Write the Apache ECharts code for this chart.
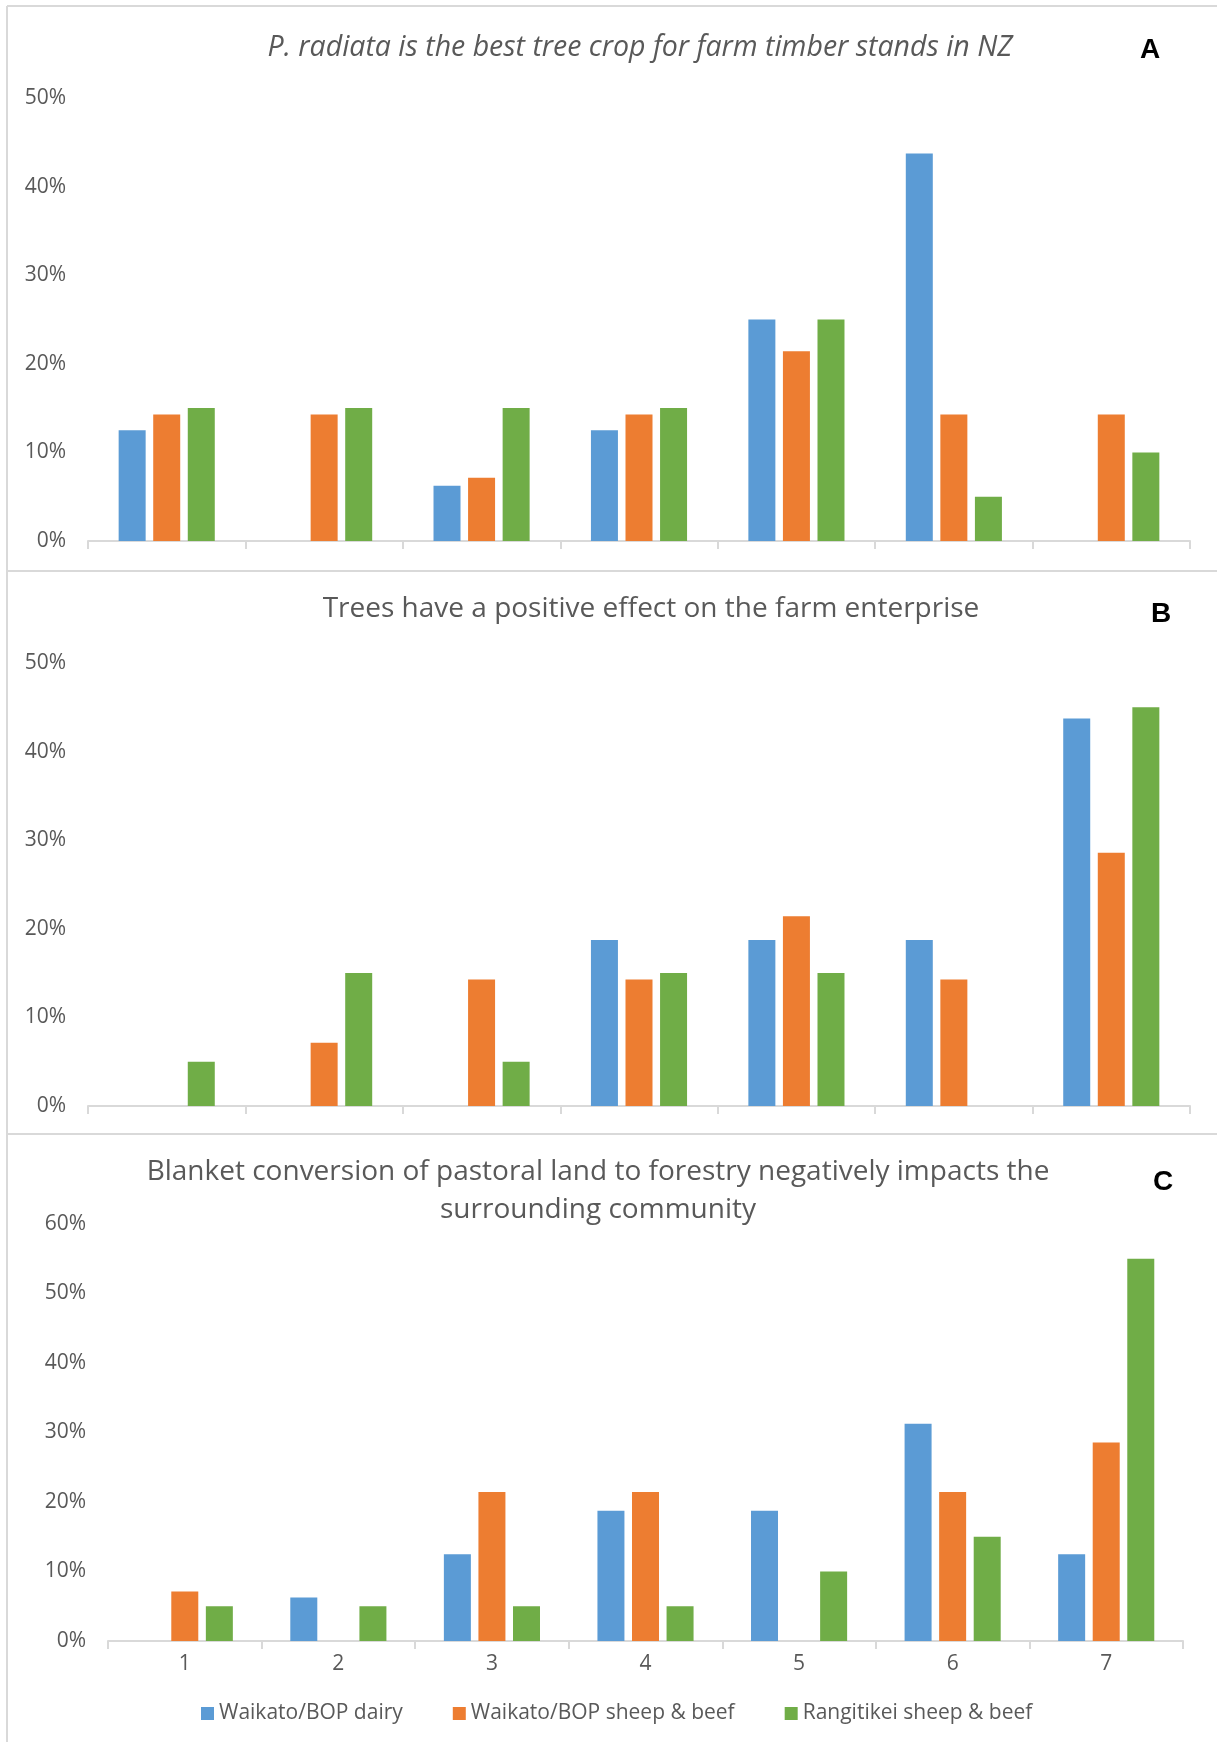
<!DOCTYPE html>
<html>
<head>
<meta charset="utf-8">
<script src="https://cdn.jsdelivr.net/npm/echarts@6/dist/echarts.min.js"></script>
<style>
  html, body { margin: 0; padding: 0; background: #ffffff; }
  #chart { width: 1217px; height: 1742px; }
</style>
</head>
<body>
<div id="chart"></div>
<script>
// Likert scale responses (1 = strongly disagree ... 7 = strongly agree), % of respondents per group
const categories = ['1', '2', '3', '4', '5', '6', '7'];
const groupNames = ['Waikato/BOP dairy', 'Waikato/BOP sheep & beef', 'Rangitikei sheep & beef'];
const groupColors = ['#5B9BD5', '#ED7D31', '#70AD47'];

const panelTitles = [
  'P. radiata is the best tree crop for farm timber stands in NZ',
  'Trees have a positive effect on the farm enterprise',
  'Blanket conversion of pastoral land to forestry negatively impacts the\nsurrounding community'
];
const panelLetters = ['A', 'B', 'C'];

// A: P. radiata is the best tree crop
const radiataDairy     = [12.5, 0, 6.25, 12.5, 25, 43.75, 0];
const radiataSheepBeef = [14.29, 14.29, 7.14, 14.29, 21.43, 14.29, 14.29];
const radiataRangitikei = [15, 15, 15, 15, 25, 5, 10];

// B: Trees have a positive effect
const positiveDairy     = [0, 0, 0, 18.75, 18.75, 18.75, 43.75];
const positiveSheepBeef = [0, 7.14, 14.29, 14.29, 21.43, 14.29, 28.57];
const positiveRangitikei = [5, 15, 5, 15, 15, 0, 45];

// C: Blanket conversion negatively impacts community
const conversionDairy     = [0, 6.25, 12.5, 18.75, 18.75, 31.25, 12.5];
const conversionSheepBeef = [7.14, 0, 21.43, 21.43, 0, 21.43, 28.57];
const conversionRangitikei = [5, 5, 5, 5, 10, 15, 55];

const yMax = [50, 50, 60];
const yInterval = 10;

const panelData = [
  [radiataDairy, radiataSheepBeef, radiataRangitikei],
  [positiveDairy, positiveSheepBeef, positiveRangitikei],
  [conversionDairy, conversionSheepBeef, conversionRangitikei]
];

const FONT = '"Open Sans", "DejaVu Sans", sans-serif';
const TEXT_COLOR = '#595959';
const LINE_COLOR = '#D9D9D9';

const grids = [
  { left: 88, width: 1102, top: 98, height: 443 },
  { left: 88, width: 1102, top: 663, height: 443 },
  { left: 108, width: 1075, top: 1224, height: 417 }
];

const xAxes = grids.map((g, i) => ({
  type: 'category',
  gridIndex: i,
  data: categories,
  axisLine: { lineStyle: { color: LINE_COLOR, width: 2 } },
  axisTick: { show: true, length: 8, lineStyle: { color: LINE_COLOR, width: 2 } },
  axisLabel: {
    show: i === 2,
    color: TEXT_COLOR,
    fontFamily: FONT,
    fontSize: 21,
    margin: 13
  }
}));

const yAxes = grids.map((g, i) => ({
  type: 'value',
  gridIndex: i,
  min: 0,
  max: yMax[i],
  interval: yInterval,
  splitLine: { show: false },
  axisLine: { show: false },
  axisTick: { show: false },
  axisLabel: {
    formatter: '{value}%',
    color: TEXT_COLOR,
    fontFamily: FONT,
    fontSize: 21,
    margin: 22
  }
}));

const series = [];
panelData.forEach((groups, p) => {
  groups.forEach((values, g) => {
    series.push({
      type: 'bar',
      name: groupNames[g],
      xAxisIndex: p,
      yAxisIndex: p,
      data: values,
      barWidth: 27,
      barGap: '28%',
      itemStyle: { color: groupColors[g] },
      emphasis: { disabled: true }
    });
  });
});

const titleCenters = [
  { x: 640, top: 29, italic: true, size: 28.5 },
  { x: 651, top: 590, italic: false, size: 28 },
  { x: 598, top: 1153, italic: false, size: 28 }
];

const titles = panelTitles.map((t, i) => ({
  text: t,
  left: titleCenters[i].x,
  top: titleCenters[i].top,
  textAlign: 'center',
  padding: 0,
  textStyle: {
    color: TEXT_COLOR,
    fontFamily: FONT,
    fontSize: titleCenters[i].size,
    fontWeight: 'normal',
    fontStyle: titleCenters[i].italic ? 'italic' : 'normal',
    lineHeight: 38
  }
}));

const letterPos = [[1150, 50], [1161, 614], [1163, 1182]];

const graphic = [
  // panel frames
  { type: 'line', shape: { x1: 7, y1: 6, x2: 7, y2: 1742 }, style: { stroke: LINE_COLOR, lineWidth: 2 }, silent: true },
  { type: 'line', shape: { x1: 7, y1: 6, x2: 1217, y2: 6 }, style: { stroke: LINE_COLOR, lineWidth: 2 }, silent: true },
  { type: 'line', shape: { x1: 7, y1: 571, x2: 1217, y2: 571 }, style: { stroke: LINE_COLOR, lineWidth: 2 }, silent: true },
  { type: 'line', shape: { x1: 7, y1: 1134, x2: 1217, y2: 1134 }, style: { stroke: LINE_COLOR, lineWidth: 2 }, silent: true }
];
panelLetters.forEach((l, i) => {
  graphic.push({
    type: 'text',
    x: letterPos[i][0],
    y: letterPos[i][1],
    silent: true,
    style: {
      text: l,
      fill: '#000000',
      font: 'bold 28px "Liberation Sans", Arial, sans-serif',
      textAlign: 'center',
      textVerticalAlign: 'middle'
    }
  });
});

const chart = echarts.init(document.getElementById('chart'), null, { renderer: 'canvas' });
chart.setOption({
  animation: false,
  backgroundColor: '#ffffff',
  title: titles,
  grid: grids,
  xAxis: xAxes,
  yAxis: yAxes,
  series: series,
  legend: {
    data: groupNames,
    left: 201,
    top: 1703,
    padding: 0,
    icon: 'rect',
    itemWidth: 13,
    itemHeight: 13,
    itemGap: 50,
    textStyle: { color: TEXT_COLOR, fontFamily: FONT, fontSize: 21 }
  },
  graphic: graphic
});
</script>
</body>
</html>
